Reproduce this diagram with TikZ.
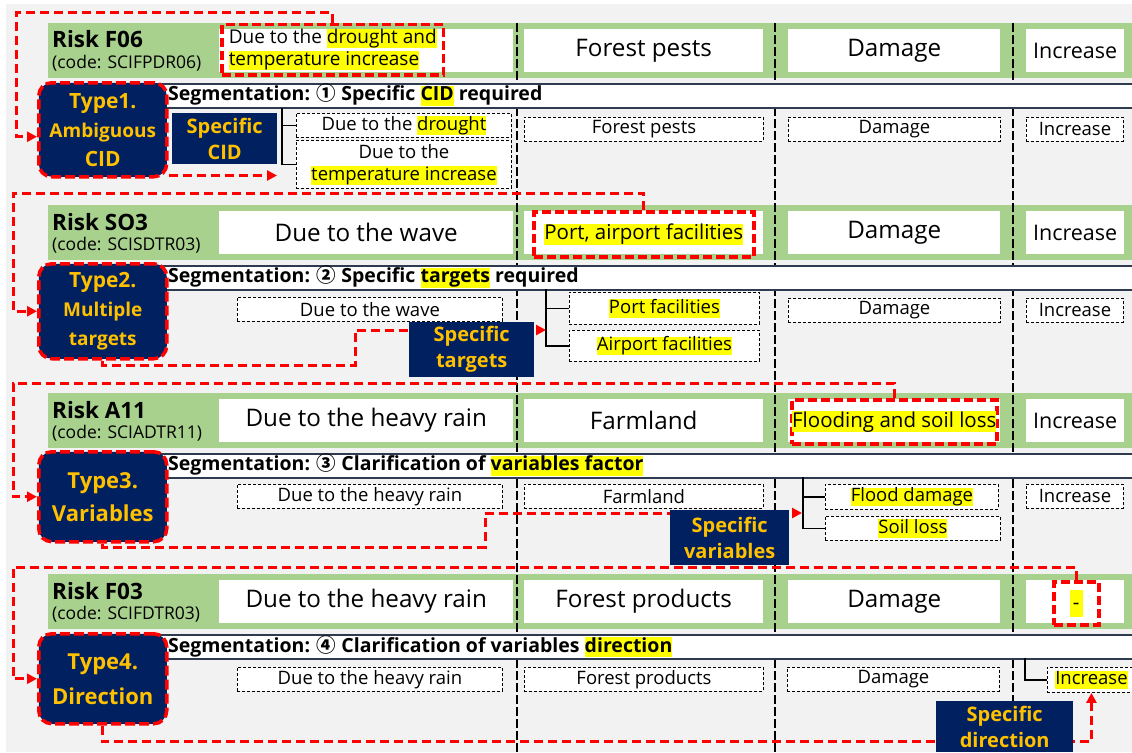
\documentclass[tikz,border=0pt]{standalone}
\usepackage{fontspec}
\setmainfont{Open Sans}
\newfontfamily\cjkfont{Noto Sans CJK KR}
\usetikzlibrary{positioning,arrows.meta,calc}

\definecolor{navy}{HTML}{002060}
\definecolor{gold}{HTML}{FFC000}
\definecolor{bandgreen}{HTML}{A9D18E}
\definecolor{canvas}{HTML}{F2F2F2}
\definecolor{barline}{HTML}{2E3A4F}
\definecolor{hlyellow}{HTML}{FFFF00}

\newcommand{\fsz}[2]{\fontsize{#1}{#2}\selectfont}
\newcommand{\hlt}[1]{{\setlength{\fboxsep}{0pt}\colorbox{hlyellow}{\rule[-0.24em]{0pt}{1.02em}#1}}}
\newcommand{\cnum}[1]{{\cjkfont #1}}

\tikzset{
  cell/.style={fill=white, inner sep=0pt, anchor=north west, minimum height=43pt, font=\fsz{24.2}{28}},
  cellA/.style={cell, minimum width=294pt},
  cellB/.style={cell, minimum width=239pt},
  cellC/.style={cell, minimum width=212pt},
  cellD/.style={cell, minimum width=98pt, font=\fsz{21.5}{25}},
  subbox/.style={draw, densely dashed, line width=0.9pt, fill=white, inner sep=0pt,
    anchor=north west, minimum height=24pt, font=\fsz{18.5}{22}, align=center},
  subA/.style={subbox, minimum width=265pt},
  subB/.style={subbox, minimum width=239pt},
  subC/.style={subbox, minimum width=212pt},
  subD/.style={subbox, minimum width=97pt},
  redbox/.style={draw=red, line width=3.5pt, dash pattern=on 9pt off 4pt,
    inner sep=0pt, anchor=north west, font=\fsz{20.5}{22}},
  redline/.style={draw=red, line width=3pt, dash pattern=on 9pt off 5pt},
  redarrow/.style={redline, -{Triangle[length=10pt,width=10pt]}},
  typebox/.style={fill=navy, draw=red, line width=3.5pt, dash pattern=on 10pt off 4pt,
    rounded corners=13pt, minimum width=128pt, anchor=north west, text=gold,
    font=\bfseries\fsz{21}{29}, align=center, inner sep=0pt},
  specbox/.style={fill=navy, text=gold, font=\bfseries\fsz{20}{26}, align=center,
    inner sep=0pt, anchor=north west},
  segbar/.style={fill=white, draw=barline, line width=1.6pt, anchor=north west,
    minimum width=990pt, minimum height=24pt},
  segtext/.style={anchor=west, inner sep=0pt, font=\bfseries\fsz{19.5}{22}},
  colline/.style={black, line width=1.8pt, dash pattern=on 9pt off 3pt},
  brk/.style={black, line width=1.8pt},
  risk/.style={anchor=base west, inner sep=0pt, font=\bfseries\fsz{22.5}{24}},
  code/.style={anchor=base west, inner sep=0pt, font=\fsz{17.5}{19}},
}

\begin{document}
\begin{tikzpicture}[x=1pt,y=-1pt]
  \useasboundingbox (0,0) rectangle (1132,752);
  \fill[canvas] (6,4) rectangle (1132,752);

  % green risk rows
  \foreach \t in {23,205,393,574}
    \fill[bandgreen] (48,\t) rectangle (1132,\t+55);

  \node (risk1) at (52,48) [risk] {Risk F06};
  \node (code1) at (52,68) [code] {(code: SCIFPDR06)};
  \node (risk2) at (52,230) [risk] {Risk SO3};
  \node (code2) at (52,250) [code] {(code: SCISDTR03)};
  \node (risk3) at (52,418) [risk] {Risk A11};
  \node (code3) at (52,438) [code] {(code: SCIADTR11)};
  \node (risk4) at (52,599) [risk] {Risk F03};
  \node (code4) at (52,619) [code] {(code: SCIFDTR03)};

  \node (cellA1) at (219,29) [cellA] {};
  \node (cellB1) at (524,29) [cellB] {Forest pests};
  \node (cellC1) at (788,29) [cellC] {Damage};
  \node (cellD1) at (1026,29) [cellD] {Increase};

  \node (cellA2) at (219,211) [cellA] {Due to the wave};
  \node (cellB2) at (524,211) [cellB] {};
  \node (cellC2) at (788,211) [cellC] {Damage};
  \node (cellD2) at (1026,211) [cellD] {Increase};

  \node (cellA3) at (219,399) [cellA] {Due to the heavy rain};
  \node (cellB3) at (524,399) [cellB] {Farmland};
  \node (cellC3) at (788,399) [cellC] {};
  \node (cellD3) at (1026,399) [cellD] {Increase};

  \node (cellA4) at (219,580) [cellA] {Due to the heavy rain};
  \node (cellB4) at (524,580) [cellB] {Forest products};
  \node (cellC4) at (788,580) [cellC] {Damage};
  \node (cellD4) at (1026,580) [cellD] {};

  % column separators
  \foreach \x in {517,775,1013}
    \draw[colline] (\x,23) -- (\x,760);

  % segmentation bars
  \foreach \t/\n in {23/1,205/2,393/3,574/4}
    \node (seg\n) at (150,\t+60) [segbar] {};

  \node (segtxt1) at (168,95) [segtext] {Segmentation: \cnum{①} Specific \hlt{CID} required};
  \node (segtxt2) at (168,277) [segtext] {Segmentation: \cnum{②} Specific \hlt{targets} required};
  \node (segtxt3) at (168,465) [segtext] {Segmentation: \cnum{③} Clarification of \hlt{variables factor}};
  \node (segtxt4) at (168,646) [segtext] {Segmentation: \cnum{④} Clarification of variables \hlt{direction}};

  % segmented rows
  \node (cid1a) at (296,113) [subbox, minimum width=215pt] {Due to the \hlt{drought}};
  \node (cid1b) at (296,140) [subbox, minimum width=215pt, minimum height=48pt] {Due to the\\\hlt{temperature increase}};
  \node (sub1b) at (524,117) [subB] {Forest pests};
  \node (sub1c) at (788,117) [subC] {Damage};
  \node (sub1d) at (1026,117) [subD] {Increase};

  \node (sub2a) at (237,297) [subA] {Due to the wave};
  \node (tgt2a) at (569,292) [subbox, minimum width=190pt, minimum height=32pt] {\hlt{Port facilities}};
  \node (tgt2b) at (569,330) [subbox, minimum width=190pt, minimum height=31pt] {\hlt{Airport facilities}};
  \node (sub2c) at (788,298) [subC] {Damage};
  \node (sub2d) at (1026,298) [subD] {Increase};

  \node (sub3a) at (237,484) [subA] {Due to the heavy rain};
  \node (sub3b) at (524,484) [subB] {Farmland};
  \node (var3a) at (825,484) [subbox, minimum width=173pt, minimum height=25pt] {\hlt{Flood damage}};
  \node (var3b) at (825,516) [subbox, minimum width=175pt] {\hlt{Soil loss}};
  \node (sub3d) at (1026,484) [subD] {Increase};

  \node (sub4a) at (237,667) [subA] {Due to the heavy rain};
  \node (sub4b) at (524,667) [subB] {Forest products};
  \node (sub4c) at (787,667) [subC] {Damage};
  \node (dir4) at (1047,667) [subbox, minimum width=88pt, minimum height=25pt] {\hlt{Increase}};

  % brackets
  \coordinate (knot1) at (282,108);
  \coordinate (knot2) at (546,289);
  \coordinate (knot3) at (803,477);
  \coordinate (knot4) at (1025,658);
  \draw[brk] (knot1) |- (cid1a.west);
  \draw[brk] (knot1) |- (cid1b.west);
  \draw[brk] (knot2) |- (tgt2a.west);
  \draw[brk] (knot2) |- (tgt2b.west);
  \draw[brk] (knot3) |- (var3a.west);
  \draw[brk] (knot3) |- (var3b.west);
  \draw[brk] (knot4) |- (dir4.west);

  % ambiguous parts
  \node (amb1) at (220,23) [redbox, inner xsep=7pt, minimum height=50pt, align=left, font=\fsz{19}{22}]
    {Due to the \hlt{drought and}\\\hlt{temperature increase}};
  \node (amb2) at (532,210) [redbox, minimum width=220pt, minimum height=45pt] {\hlt{Port, airport facilities}};
  \node (amb3) at (790,398) [redbox, minimum width=205pt, minimum height=44pt] {\hlt{Flooding and soil loss}};
  \node (amb4) at (1052,580) [redbox, minimum width=45pt, minimum height=43pt]
    {{\setlength{\fboxsep}{0pt}\colorbox{hlyellow}{\rule[-7pt]{0pt}{27pt}\,-\,}}};

  % types
  \node (type1) at (37,81) [typebox, minimum height=94pt] {Type1.\\{\fsz{19}{29}Ambiguous}\\CID};
  \node (type2) at (37,262) [typebox, minimum height=95pt] {Type2.\\{\fsz{19}{28}Multiple}\\{\fsz{19}{28}targets}};
  \node (type3) at (37,450) [typebox, minimum height=90pt, font=\bfseries\fsz{22}{33}] {Type3.\\Variables};
  \node (type4) at (37,632) [typebox, minimum height=90pt, font=\bfseries\fsz{22}{35}] {Type4.\\Direction};

  % red routes
  \coordinate (turn1) at (16,13);
  \coordinate (turn2) at (13,193);
  \coordinate (turn3) at (13,383);
  \coordinate (turn4) at (13,567);
  \draw[redarrow] (amb1.north) |- (turn1) |- ($(type1.west)+(0,7)$);
  \draw[redarrow] (amb2.north) |- (turn2) |- (type2.west);
  \draw[redarrow] (amb3.north) |- (turn3) |- (type3.west);
  \draw[redarrow] (amb4.north) |- (turn4) |- (type4.west);

  \coordinate (tip2) at (546,330);
  \coordinate (tip3) at (802,513);
  \draw[redarrow] ($(type1.south east)+(0,-3)$) -- ($(type1.south east -| cid1a.west)+(-19,-3)$);
  \draw[redarrow] (type2.south) |- (355,365) |- (tip2);
  \draw[redarrow] (type3.south) |- (485,547) |- (tip3);
  \draw[redarrow] (type4.south) |- ($(dir4.south)+(0,49)$) -- (dir4.south);

  % specific boxes
  \node (spec1) at (172,113) [specbox, minimum width=105pt, minimum height=51pt] {Specific\\CID};
  \node (spec2) at (409,322) [specbox, minimum width=125pt, minimum height=55pt] {Specific\\targets};
  \node (spec3) at (670,510) [specbox, minimum width=119pt, minimum height=55pt] {Specific\\variables};
  \node (spec4) at (936,701) [specbox, minimum width=137pt, minimum height=51pt] {Specific\\direction};
\end{tikzpicture}
\end{document}
